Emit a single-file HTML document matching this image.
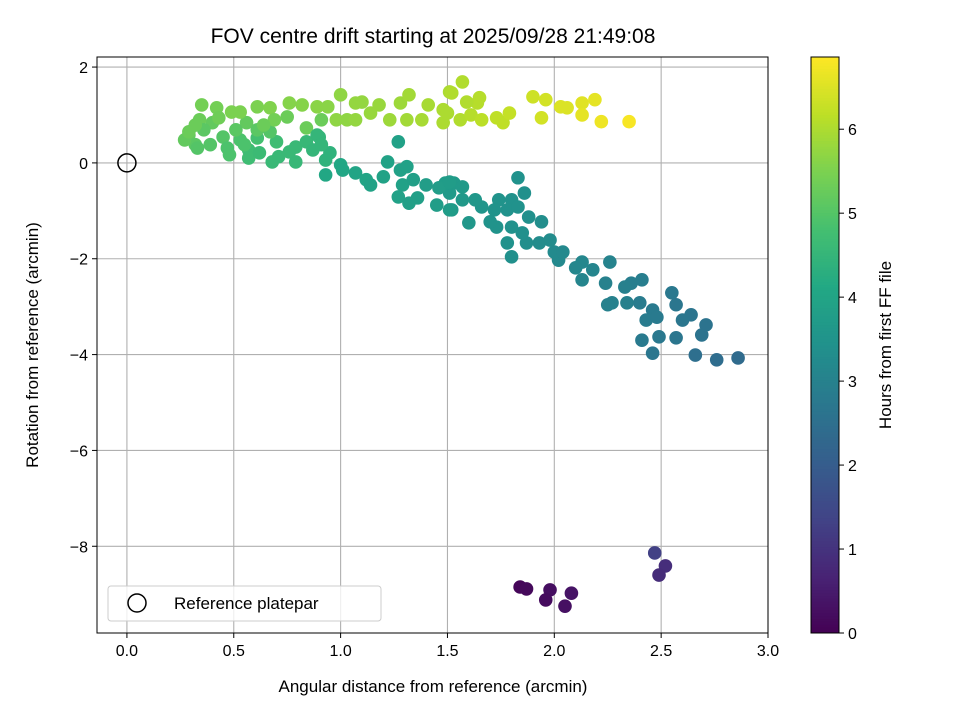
<!DOCTYPE html>
<html><head><meta charset="utf-8"><style>
html,body{margin:0;padding:0;background:#fff;}
svg{display:block;font-family:"Liberation Sans","DejaVu Sans",sans-serif;}
</style></head><body>
<svg id="chart" width="960" height="720" viewBox="0 0 960 720" xmlns="http://www.w3.org/2000/svg">
<rect width="960" height="720" fill="#fff"/>
<text x="433" y="43" font-size="21" text-anchor="middle" fill="#000">FOV centre drift starting at 2025/09/28 21:49:08</text>
<g id="grid"></g><g id="pts"></g><g id="axes"></g><g id="cbar"></g>
<text x="433" y="692" font-size="17" text-anchor="middle">Angular distance from reference (arcmin)</text>
<text transform="translate(38,345) rotate(-90)" font-size="17" text-anchor="middle">Rotation from reference (arcmin)</text>
<text transform="translate(891,345) rotate(-90)" font-size="17" text-anchor="middle">Hours from first FF file</text>
<g>
<rect x="108" y="586" width="273" height="35" rx="3" fill="#fff" fill-opacity="0.8" stroke="#ccc"/>
<circle cx="137" cy="603" r="9" fill="none" stroke="#000" stroke-width="1.5"/>
<text x="174" y="609" font-size="17">Reference platepar</text>
</g>
</svg>
<script>
const xTicks=[0.0,0.5,1.0,1.5,2.0,2.5,3.0];
const yTicks=[2,0,-2,-4,-6,-8];
const cTicks=[0,1,2,3,4,5,6];
const refPoint=[0,0];
const xs=[2.46,2.66,2.76,2.86,2.41,2.49,2.57,2.69,2.71,2.64,2.60,2.55,2.57,2.46,2.43,2.40,2.48,2.36,2.41,2.33,2.34,2.27,2.25,2.24,2.26,2.18,2.13,2.13,2.10,2.02,2.00,2.04,1.98,1.93,1.87,1.85,1.80,1.78,1.73,1.70,1.60,1.66,1.63,1.57,1.52,1.51,1.49,1.53,1.57,1.74,1.80,1.83,1.86,1.88,1.94,1.78,1.72,1.83,1.80,
0.93,1.00,1.01,1.07,1.12,1.14,1.22,1.20,1.28,1.31,1.29,1.34,1.27,1.32,1.36,1.40,1.46,1.51,1.45,1.51,1.27,
0.29,0.32,0.40,0.45,0.53,0.39,0.47,0.57,0.61,0.70,0.79,0.84,0.90,0.95,0.87,0.76,0.57,0.62,0.68,0.79,0.71,0.91,0.84,0.56,0.61,0.67,0.75,0.51,0.34,0.36,0.27,0.33,0.48,0.55,0.89,0.91,0.93,
0.35,0.42,0.49,0.53,0.61,0.67,0.76,0.82,0.89,0.94,1.00,1.07,1.10,1.18,1.28,1.32,1.41,1.51,1.57,1.23,1.31,1.38,1.48,0.98,1.03,1.07,1.14,1.52,1.65,1.64,1.59,1.56,1.48,1.50,1.61,1.66,1.73,1.76,1.79,1.90,1.96,1.94,2.03,2.06,2.13,2.19,2.13,2.22,2.35,0.29,0.32,0.43,0.69,0.64,
1.84,1.87,1.98,1.96,2.08,2.05,2.47,2.52,2.49];
const ys=[-3.97,-4.01,-4.11,-4.07,-3.70,-3.63,-3.65,-3.59,-3.38,-3.17,-3.28,-2.71,-2.96,-3.07,-3.28,-2.92,-3.22,-2.51,-2.44,-2.59,-2.92,-2.92,-2.96,-2.51,-2.07,-2.23,-2.44,-2.07,-2.19,-2.03,-1.86,-1.86,-1.61,-1.67,-1.67,-1.46,-1.96,-1.67,-1.34,-1.23,-1.25,-0.92,-0.77,-0.77,-0.98,-0.63,-0.42,-0.42,-0.50,-0.77,-0.77,-0.31,-0.63,-1.13,-1.23,-0.98,-0.98,-0.92,-1.34,
-0.25,-0.04,-0.15,-0.21,-0.35,-0.46,0.02,-0.29,-0.15,-0.08,-0.46,-0.35,-0.71,-0.84,-0.73,-0.46,-0.52,-0.40,-0.88,-0.98,0.44,
0.58,0.38,0.84,0.54,0.48,0.38,0.31,0.27,0.52,0.44,0.33,0.44,0.54,0.21,0.27,0.23,0.10,0.21,0.02,0.02,0.13,0.90,0.73,0.84,0.69,0.65,0.96,0.69,0.90,0.69,0.48,0.31,0.17,0.38,0.58,0.38,0.06,
1.21,1.15,1.06,1.06,1.17,1.15,1.25,1.21,1.17,1.17,1.42,1.25,1.27,1.21,1.25,1.42,1.21,1.48,1.69,0.90,0.90,0.90,1.11,0.90,0.90,0.90,1.04,1.46,1.36,1.25,1.27,0.90,0.84,1.04,1.00,0.90,0.94,0.84,1.04,1.38,1.32,0.94,1.17,1.15,1.25,1.32,1.00,0.86,0.86,0.65,0.79,0.94,0.90,0.79,
-8.85,-8.89,-8.91,-9.12,-8.98,-9.25,-8.14,-8.41,-8.60];
const hours=[2.7,2.5,2.45,2.4,2.8,2.75,2.7,2.6,2.6,2.65,2.7,2.75,2.7,2.8,2.85,2.85,2.8,2.9,2.9,2.95,2.95,3.0,3.0,3.0,3.05,3.1,3.1,3.15,3.15,3.2,3.25,3.2,3.3,3.3,3.35,3.4,3.4,3.45,3.5,3.5,3.6,3.55,3.6,3.65,3.7,3.7,3.75,3.7,3.7,3.5,3.45,3.45,3.4,3.4,3.35,3.45,3.5,3.45,3.45,
4.1,4.1,4.05,4.0,4.0,3.95,3.95,3.95,3.9,3.9,3.9,3.85,3.9,3.85,3.85,3.8,3.8,3.75,3.8,3.75,3.9,
5.2,5.1,5.2,5.0,4.9,5.0,4.9,4.7,4.8,4.7,4.6,4.55,4.5,4.4,4.5,4.6,4.7,4.65,4.6,4.55,4.6,5.3,5.3,5.2,5.1,5.0,5.3,5.1,5.3,5.1,5.2,5.0,4.9,4.9,4.5,4.5,4.4,
5.4,5.4,5.5,5.5,5.5,5.55,5.6,5.6,5.65,5.65,5.7,5.75,5.75,5.8,5.85,5.9,5.95,6.0,6.05,5.85,5.9,5.95,6.0,5.7,5.7,5.75,5.8,6.05,6.1,6.1,6.05,6.05,6.0,6.0,6.1,6.15,6.2,6.2,6.25,6.35,6.4,6.4,6.5,6.5,6.55,6.6,6.6,6.7,6.8,5.3,5.3,5.35,5.4,5.3,
0.1,0.15,0.25,0.2,0.35,0.3,1.3,0.9,0.85];

const NS='http://www.w3.org/2000/svg';
const L=97,R=768,T=57,B=633;
const X0=-0.14,X1=3.0,Y0=-9.81,Y1=2.21,CMAX=6.86;
const sx=v=>L+(v-X0)/(X1-X0)*(R-L);
const sy=v=>B-(v-Y0)/(Y1-Y0)*(B-T);
const stops=['#440154','#482475','#414487','#355f8d','#2a788e','#21918c','#22a884','#44bf70','#7ad151','#bddf26','#fde725'];
function hx(c){return [1,3,5].map(i=>parseInt(c.substr(i,2),16));}
function viridis(t){t=Math.max(0,Math.min(1,t));const p=t*10,i=Math.min(9,Math.floor(p)),f=p-i;const a=hx(stops[i]),b=hx(stops[i+1]);return 'rgb('+a.map((v,k)=>Math.round(v+(b[k]-v)*f)).join(',')+')';}
function mk(tag,at,parent){const e=document.createElementNS(NS,tag);for(const k in at)e.setAttribute(k,at[k]);parent.appendChild(e);return e;}
const grid=document.getElementById('grid'),axes=document.getElementById('axes'),pts=document.getElementById('pts'),cb=document.getElementById('cbar');
xTicks.forEach(t=>{const x=sx(t);
 const g=mk('line',{x1:x,x2:x,y1:T,y2:B,stroke:'#b0b0b0','stroke-width':1.1},grid);
 
 
 mk('line',{x1:x,x2:x,y1:B,y2:B+5,stroke:'#000'},axes);
 const tx=mk('text',{x:x,y:B+23,'font-size':16,'text-anchor':'middle'},axes);tx.textContent=t.toFixed(1);
 
 });
yTicks.forEach(t=>{const y=sy(t);
 const g=mk('line',{x1:L,x2:R,y1:y,y2:y,stroke:'#b0b0b0','stroke-width':1.1},grid);
 
 
 mk('line',{x1:L-5,x2:L,y1:y,y2:y,stroke:'#000'},axes);
 const tx=mk('text',{x:L-9,y:y+6,'font-size':16,'text-anchor':'end'},axes);tx.textContent=(t<0?'\u2212':'')+Math.abs(t);
 
 });
const frame=mk('rect',{x:L,y:T,width:R-L,height:B-T,fill:'none',stroke:'#000','stroke-width':1},axes);


xs.forEach((x,i)=>{const c=mk('circle',{cx:sx(x),cy:sy(ys[i]),r:6.8,fill:viridis(hours[i]/CMAX)},pts);
 
 });
const ref=mk('circle',{cx:sx(refPoint[0]),cy:sy(refPoint[1]),r:9,fill:'none',stroke:'#000','stroke-width':1.5},pts);


// colorbar
const CL=811,CR=839,cy=h=>B-h/CMAX*(B-T);
for(let k=0;k<200;k++){const h0=k/200*CMAX,h1=(k+1)/200*CMAX;
 mk('rect',{x:CL,y:cy(h1)-0.5,width:CR-CL,height:cy(h0)-cy(h1)+1,fill:viridis((k+0.5)/200)},cb);}
const cbf=mk('rect',{x:CL,y:T,width:CR-CL,height:B-T,fill:'none',stroke:'#000'},cb);


cTicks.forEach(t=>{const y=cy(t);mk('line',{x1:CR,x2:CR+5,y1:y,y2:y,stroke:'#000'},cb);
 const tx=mk('text',{x:CR+9,y:y+6,'font-size':16},cb);tx.textContent=t;
 
 });
</script>
</body></html>
